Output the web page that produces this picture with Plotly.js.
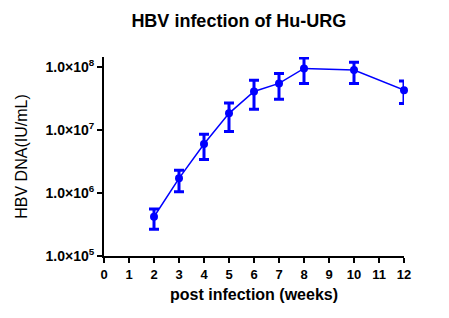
<!DOCTYPE html>
<html>
<head>
<meta charset="utf-8">
<script src="https://cdn.plot.ly/plotly-3.0.1.min.js"></script>
<style>html,body{margin:0;padding:0;background:#fff;}#chart{width:449px;height:318px;}</style>
</head>
<body>
<div id="chart"></div>
<script>
const weeks = [2, 3, 4, 5, 6, 7, 8, 10, 12];
const meanDNA = [4.2e5, 1.71e6, 6.0e6, 1.84e7, 4.1e7, 5.5e7, 9.5e7, 9.0e7, 4.3e7];
const upperDNA = [5.6e5, 2.3e6, 8.6e6, 2.7e7, 6.2e7, 7.9e7, 1.39e8, 1.19e8, 6.0e7];
const lowerDNA = [2.65e5, 1.05e6, 3.4e6, 9.5e6, 2.13e7, 3.07e7, 5.5e7, 5.5e7, 2.65e7];
const xTicks = [0,1,2,3,4,5,6,7,8,9,10,11,12];
const yTickVals = [1e5, 1e6, 1e7, 1e8];
const yTickText = ['1.0×10<sup>5</sup>', '1.0×10<sup>6</sup>', '1.0×10<sup>7</sup>', '1.0×10<sup>8</sup>'];

const errPlus = meanDNA.map((m, i) => upperDNA[i] - m);
const errMinus = meanDNA.map((m, i) => m - lowerDNA[i]);

const FONT = 'Arial, Liberation Sans, sans-serif';

const trace = {
  x: weeks, y: meanDNA, type: 'scatter', mode: 'lines+markers',
  line: {color: '#0000FF', width: 1.5},
  marker: {color: '#0000FF', size: 8, symbol: 'circle'},
  error_y: {type: 'data', symmetric: false, array: errPlus, arrayminus: errMinus,
            color: '#0000FF', thickness: 3, width: 5},
  cliponaxis: false
};

const layout = {
  width: 449, height: 318,
  margin: {l: 104, r: 45, t: 57, b: 62},
  paper_bgcolor: '#fff', plot_bgcolor: '#fff',
  showlegend: false,
  title: {text: '<b>HBV infection of Hu-URG</b>', x: 0.532, xanchor: 'center', y: 0.935, yanchor: 'middle',
          font: {family: FONT, size: 18, color: '#000'}},
  xaxis: {
    range: [0, 12], tickvals: xTicks, ticktext: xTicks.map(String),
    showgrid: false, zeroline: false, showline: true, linecolor: '#000', linewidth: 2,
    ticks: 'outside', ticklen: 5, tickwidth: 2, tickcolor: '#000',
    tickfont: {family: FONT, size: 13, color: '#000', weight: 'bold'},
    title: {text: '<b>post infection (weeks)</b>', standoff: 8,
            font: {family: FONT, size: 16, color: '#000'}}
  },
  yaxis: {
    type: 'log', range: [5, 8.16], tickvals: yTickVals, ticktext: yTickText,
    showgrid: false, zeroline: false, showline: true, linecolor: '#000', linewidth: 2,
    ticks: 'outside', ticklen: 5, tickwidth: 2, tickcolor: '#000',
    tickfont: {family: FONT, size: 14, color: '#000', weight: 'bold'},
    title: {text: 'HBV DNA(IU/mL)', standoff: 14,
            font: {family: FONT, size: 16, color: '#000'}}
  }
};

Plotly.newPlot('chart', [trace], layout, {staticPlot: true, displayModeBar: false});
</script>
</body>
</html>
